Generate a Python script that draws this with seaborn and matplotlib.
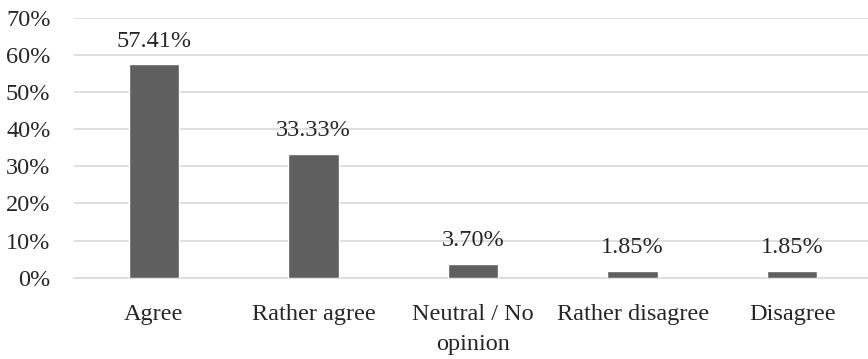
import matplotlib
matplotlib.use("Agg")
import matplotlib.pyplot as plt
import seaborn as sns
import pandas as pd
from matplotlib.ticker import PercentFormatter

categories = ["Agree", "Rather agree", "Neutral / No\nopinion", "Rather disagree", "Disagree"]
shares = [57.41, 33.33, 3.70, 1.85, 1.85]
yticks = [0, 10, 20, 30, 40, 50, 60, 70]

df = pd.DataFrame({"category": categories, "share": shares})

sns.set_theme(style="white")
plt.rcParams["font.family"] = ["Liberation Serif", "DejaVu Serif"]

W, H = 868, 359
fig = plt.figure(figsize=(W / 100, H / 100), dpi=100)
left, right, top, bottom = 74, 872, 17.7, 277.7
ax = fig.add_axes([left / W, 1 - bottom / H, (right - left) / W, (bottom - top) / H])

sns.barplot(data=df, x="category", y="share", color="#5f5f5f", width=0.315,
            saturation=1, ax=ax, zorder=3)

ax.set_ylim(0, 70)
ax.set_xlim(-0.5, 4.5)
ax.set_yticks(yticks)
ax.yaxis.set_major_formatter(PercentFormatter(decimals=0))
ax.grid(axis="y", color="#d9d9d9", linewidth=1.2, zorder=0)
ax.grid(axis="x", visible=False)
for side in ["top", "right", "left"]:
    ax.spines[side].set_visible(False)
ax.spines["bottom"].set_color("#d9d9d9")
ax.spines["bottom"].set_linewidth(1.2)
ax.set_xlabel("")
ax.set_ylabel("")
ax.tick_params(axis="y", length=0, pad=17, labelsize=17.5, labelcolor="#262626")
ax.tick_params(axis="x", length=0, pad=19, labelsize=17.5, labelcolor="#262626")
for lbl in ax.get_xticklabels():
    lbl.set_linespacing(1.55)

for cont in ax.containers:
    ax.bar_label(cont, labels=[f"{v:.2f}%" for v in shares], padding=9,
                 fontsize=17.5, color="#262626")

fig.savefig("out.png", dpi=100, facecolor="white")
